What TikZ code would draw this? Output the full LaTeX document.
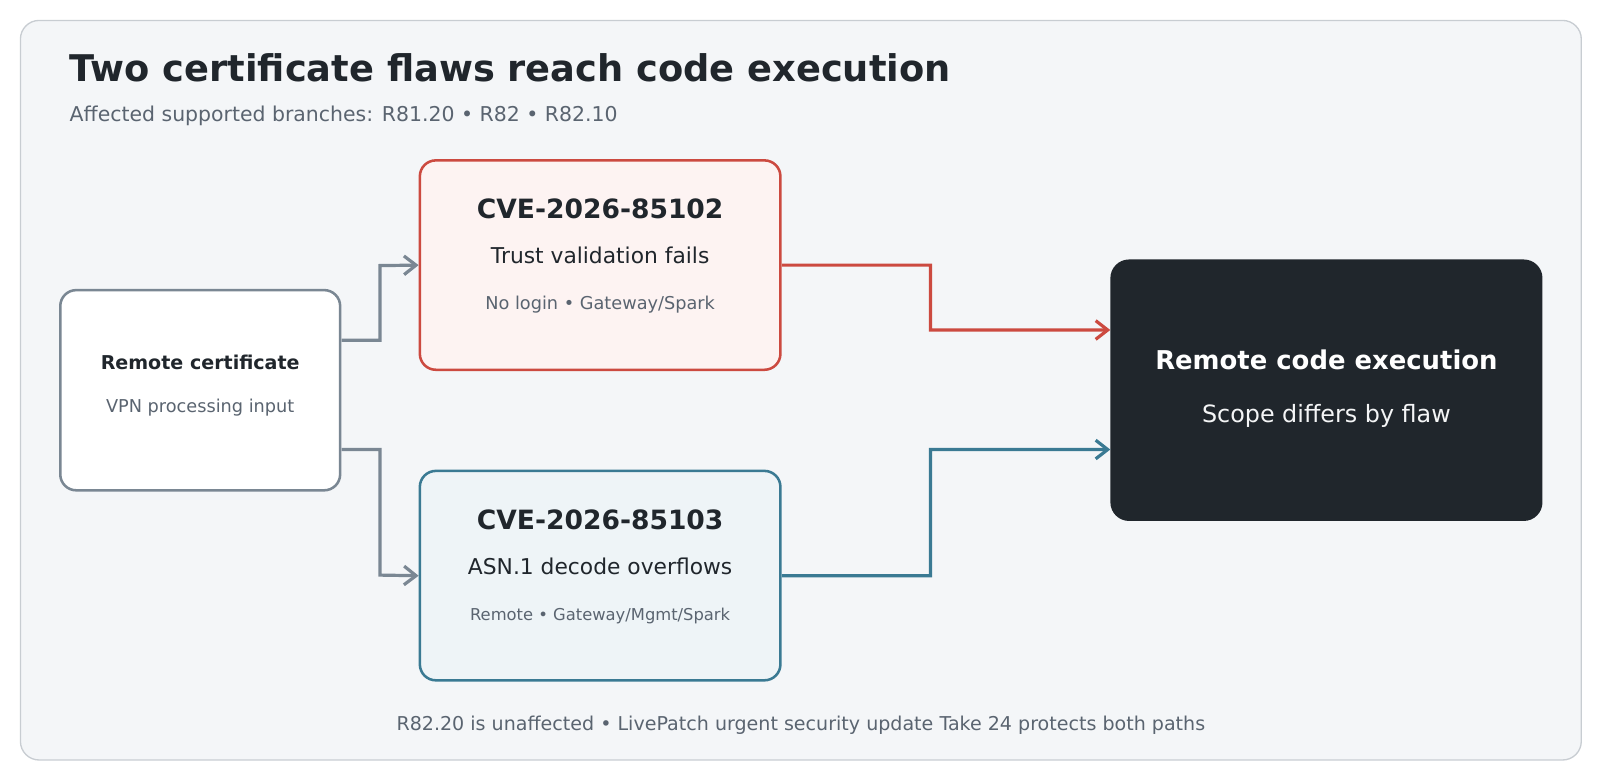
\documentclass[tikz,border=0pt]{standalone}
\usepackage{fontspec}
\setmainfont{DejaVu Sans}
\usetikzlibrary{arrows.meta}
\definecolor{panel}{HTML}{F4F6F8}
\definecolor{panelline}{HTML}{C8CDD2}
\definecolor{ink}{HTML}{20262C}
\definecolor{muted}{HTML}{5A6470}
\definecolor{cgray}{HTML}{7A8793}
\definecolor{cred}{HTML}{CC4A40}
\definecolor{redfill}{HTML}{FDF3F2}
\definecolor{cblue}{HTML}{3A7A93}
\definecolor{bluefill}{HTML}{EEF4F7}
\begin{document}%
\begin{tikzpicture}[x=0.75pt,y=-0.75pt,
  box/.style={draw, line width=1.9pt, rounded corners=12pt, inner sep=0pt},
  conn/.style={-{Straight Barb[length=9pt,width=14pt]}},
  txt/.style={inner sep=0pt, anchor=base}]
\begin{scope}[scale=1.0215, transform shape]
\node[draw=panelline, fill=panel, line width=1pt, rounded corners=14pt, minimum width=1146pt, minimum height=543pt, inner sep=0pt] (panel) at (784,382) {};
\node[txt, anchor=base west, font=\bfseries\fontsize{27}{32}\selectfont, text=ink] (title) at (68,80) {Two certificate flaws reach code execution};
\node[txt, anchor=base west, font=\fontsize{15}{18}\selectfont, text=muted] (sub) at (68,119) {Affected supported branches: R81.20 • R82 • R82.10};

\node[box, draw=cgray, fill=white, minimum width=205.5pt, minimum height=147pt] (rc) at (196,382) {};
\node[txt, font=\bfseries\fontsize{14}{17}\selectfont, text=ink] (rct) at (196,362) {Remote certificate};
\node[txt, font=\fontsize{13}{16}\selectfont, text=muted] (rcs) at (196,404) {VPN processing input};

\node[box, draw=cred, fill=redfill, minimum width=264.75pt, minimum height=153.75pt] (c1) at (587.5,259.5) {};
\node[txt, font=\bfseries\fontsize{19.5}{23}\selectfont, text=ink] (c1t) at (587.5,214) {CVE-2026-85102};
\node[txt, font=\fontsize{16}{19}\selectfont, text=ink] (c1s) at (587.5,258) {Trust validation fails};
\node[txt, font=\fontsize{13}{16}\selectfont, text=muted] (c1n) at (587.5,303) {No login • Gateway/Spark};

\node[box, draw=cblue, fill=bluefill, minimum width=264.75pt, minimum height=153.75pt] (c2) at (587.5,563.5) {};
\node[txt, font=\bfseries\fontsize{19.5}{23}\selectfont, text=ink] (c2t) at (587.5,518) {CVE-2026-85103};
\node[txt, font=\fontsize{16}{19}\selectfont, text=ink] (c2s) at (587.5,562) {ASN.1 decode overflows};
\node[txt, font=\fontsize{12}{15}\selectfont, text=muted] (c2n) at (587.5,607) {Remote • Gateway/Mgmt/Spark};

\node[fill=ink, rounded corners=14pt, minimum width=317.25pt, minimum height=192pt, inner sep=0pt] (rce) at (1298.5,382) {};
\node[txt, font=\bfseries\fontsize{19}{23}\selectfont, text=white] (rcet) at (1298.5,362) {Remote code execution};
\node[txt, font=\fontsize{17.5}{21}\selectfont, text=white!92!cgray] (rces) at (1298.5,414) {Scope differs by flaw};

\node[txt, font=\fontsize{14}{17}\selectfont, text=muted] (foot) at (784,715) {R82.20 is unaffected • LivePatch urgent security update Take 24 protects both paths};

\draw[conn, draw=cgray, line width=2.4pt] ([yshift=36.75pt]rc.east) -| (372,260) -- (c1.west);
\draw[conn, draw=cgray, line width=2.4pt] ([yshift=-43.5pt]rc.east) -| (372,563) -- (c2.west);
\draw[conn, draw=cred, line width=2.4pt] (c1.east) -| (911,323) -- ([yshift=44.25pt]rce.west);
\draw[conn, draw=cblue, line width=2.4pt] (c2.east) -| (911,440) -- ([yshift=-43.5pt]rce.west);
\end{scope}
\pgfresetboundingbox
\useasboundingbox (0,0) rectangle (1600,780);
\end{tikzpicture}%
\end{document}
